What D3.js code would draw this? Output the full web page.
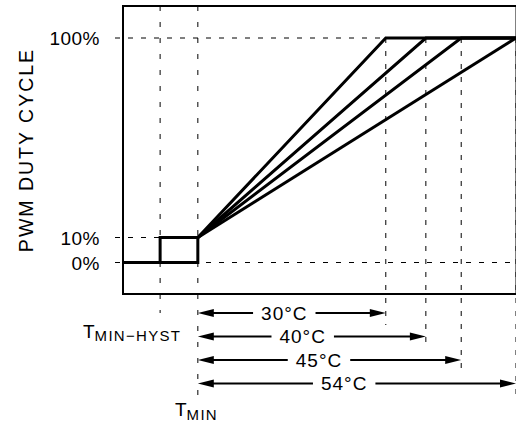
<!DOCTYPE html>
<html>
<head>
<meta charset="utf-8">
<script src="https://cdn.jsdelivr.net/npm/d3@7"></script>
<style>
  body { margin: 0; background: #fff; }
  svg { display: block; font-family: 'Liberation Sans', Arial, Helvetica, sans-serif; }
</style>
</head>
<body>
<div id="chart"></div>
<script>
const W = 516, H = 424

// duty cycle levels, %
const dutyTicks = [0, 10, 100]
const dutyTickLabels = ['0%', '10%', '100%']
const dutyMin = 10
const dutyMax = 100

// temperatures relative to T_MIN (°C, as drawn on the schematic)
const hystTemp = -6.4
const rangeLabels = ['30°C', '40°C', '45°C', '54°C']
const rangeEnds = [31.9, 38.7, 44.7, 54]

const PLOT = { left: 123, right: 516, top: 6, bottom: 294 }
const DASH = '5,8'
const DASH_LEFT = '5,11'

const svg = d3.select('#chart').append('svg')
  .attr('width', W)
  .attr('height', H)

const x = d3.scaleLinear().domain([-12.7, 54]).range([PLOT.left, PLOT.right])
// schematic axis: the 0–10% step is drawn a bit taller than scale
const y = d3.scaleLinear().domain([0, 10, 100]).range([262.5, 237.5, 38])
const row = d3.scalePoint().domain(rangeLabels).range([313, 383.5])

const tMax = rangeEnds[rangeEnds.length - 1]

// ── dashed guides ──────────────────────────────────────────────
const gGuides = svg.append('g')
  .attr('stroke', '#000')
  .attr('stroke-width', 1)
  .attr('stroke-dasharray', DASH)
  .attr('fill', 'none')

const hGuides = [
  { v: dutyMax, to: tMax },
  { v: dutyMin, to: hystTemp },
  { v: 0, to: tMax },
]
hGuides.forEach(d => {
  gGuides.append('line')
    .attr('x1', PLOT.left - 8).attr('x2', x(d.to))
    .attr('y1', y(d.v)).attr('y2', y(d.v))
})

// T_MIN-HYST and T_MIN
gGuides.append('line')
  .attr('x1', x(hystTemp)).attr('x2', x(hystTemp))
  .attr('y1', PLOT.top).attr('y2', row(rangeLabels[0]))
  .attr('stroke-dasharray', DASH_LEFT)
gGuides.append('line')
  .attr('x1', x(0)).attr('x2', x(0))
  .attr('y1', PLOT.top).attr('y2', row(rangeLabels[3]) + 13)
  .attr('stroke-dasharray', DASH_LEFT)

// end of each range
rangeEnds.forEach((t, i) => {
  gGuides.append('line')
    .attr('x1', x(t)).attr('x2', x(t))
    .attr('y1', y(dutyMax)).attr('y2', row(rangeLabels[i]) + 12)
})

// ── frame ──────────────────────────────────────────────────────
svg.append('rect')
  .attr('x', PLOT.left).attr('y', PLOT.top)
  .attr('width', PLOT.right + 0.5 - PLOT.left)
  .attr('height', PLOT.bottom - PLOT.top)
  .attr('fill', 'none')
  .attr('stroke', '#000')
  .attr('stroke-width', 2)

// ── duty cycle curves ──────────────────────────────────────────
const line = d3.line().x(d => x(d[0])).y(d => y(d[1]))

const step = [[x.domain()[0], 0], [0, 0], [0, dutyMin], [hystTemp, dutyMin], [hystTemp, 0]]
svg.append('path')
  .attr('d', line(step))
  .attr('fill', 'none')
  .attr('stroke', '#000')
  .attr('stroke-width', 3)

svg.append('g').selectAll('path')
  .data(rangeEnds)
  .join('path')
  .attr('d', t => line([[0, dutyMin], [t, dutyMax], [tMax, dutyMax]]))
  .attr('fill', 'none')
  .attr('stroke', '#000')
  .attr('stroke-width', 3)
  .attr('stroke-linejoin', 'miter')

// ── y labels ───────────────────────────────────────────────────
svg.append('g').selectAll('text')
  .data(dutyTicks)
  .join('text')
  .attr('x', 100)
  .attr('y', d => y(d) + 7)
  .attr('text-anchor', 'end')
  .style('font-size', '19px')
  .style('letter-spacing', '0.5px')
  .text((d, i) => dutyTickLabels[i])

svg.append('text')
  .attr('transform', 'translate(33,150) rotate(-90)')
  .attr('text-anchor', 'middle')
  .style('font-size', '19.5px')
  .style('letter-spacing', '2px')
  .text('PWM DUTY CYCLE')

// ── temperature labels ─────────────────────────────────────────
const hystLabel = svg.append('text')
  .attr('x', 83).attr('y', 338)
  .style('font-size', '19px')
hystLabel.append('tspan').text('T')
hystLabel.append('tspan')
  .attr('dy', 3)
  .style('font-size', '15px')
  .style('letter-spacing', '1.3px')
  .text('MIN−HYST')

const minLabel = svg.append('text')
  .attr('x', 175).attr('y', 416)
  .style('font-size', '19px')
minLabel.append('tspan').text('T')
minLabel.append('tspan')
  .attr('dy', 3.5)
  .style('font-size', '15px')
  .style('letter-spacing', '1.3px')
  .text('MIN')

// ── range arrows ───────────────────────────────────────────────
const HEAD = 16, HALF = 4
const gArrows = svg.append('g')
rangeEnds.forEach((t, i) => {
  const x0 = x(0), x1 = x(t), yy = row(rangeLabels[i])
  const g = gArrows.append('g')
  g.append('line')
    .attr('x1', x0 + HEAD - 2).attr('x2', x1 - HEAD + 2)
    .attr('y1', yy).attr('y2', yy)
    .attr('stroke', '#000').attr('stroke-width', 2)
  g.append('path')
    .attr('d', `M${x0},${yy}L${x0 + HEAD},${yy - HALF}L${x0 + HEAD},${yy + HALF}Z`)
    .attr('fill', '#000')
  g.append('path')
    .attr('d', `M${x1},${yy}L${x1 - HEAD},${yy - HALF}L${x1 - HEAD},${yy + HALF}Z`)
    .attr('fill', '#000')

  const cx = x0 + 0.46 * (x1 - x0)
  const bg = g.append('rect').attr('fill', '#fff')
  const txt = g.append('text')
    .attr('x', cx).attr('y', yy)
    .attr('dy', '0.35em')
    .attr('text-anchor', 'middle')
    .style('font-size', '19px')
    .style('letter-spacing', '1px')
    .text(rangeLabels[i])
  const w = txt.node().getComputedTextLength()
  bg.attr('x', cx - w / 2 - 8).attr('y', yy - 4)
    .attr('width', w + 16).attr('height', 8)
})
</script>
</body>
</html>
